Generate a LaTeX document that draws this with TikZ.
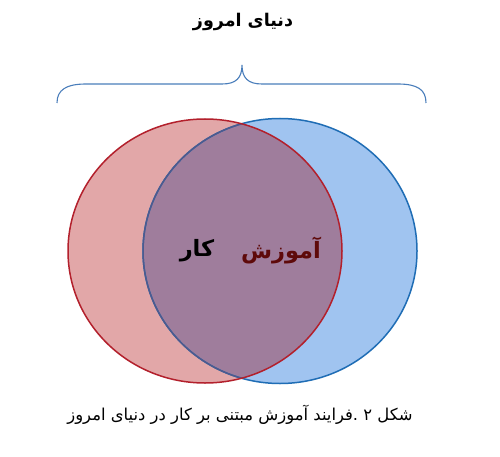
\documentclass[tikz,border=0pt]{standalone}
\usepackage{fontspec}
\newfontfamily\arabicfont[Script=Arabic]{DejaVu Sans}
\TeXXeTstate=1
\definecolor{redfill}{HTML}{E2A7A8}
\definecolor{bluefill}{HTML}{A0C4F0}
\definecolor{mixfill}{HTML}{9F7D9C}
\definecolor{redline}{HTML}{B3202C}
\definecolor{blueline}{HTML}{1F6DB5}
\definecolor{mixline}{HTML}{4D5A8E}
\definecolor{bracecol}{HTML}{4A7EBB}
\definecolor{darkredtext}{HTML}{5E0A0A}
\tikzset{
  ftext/.style={font=\arabicfont\bfseries, inner sep=0pt},
  ctext/.style={font=\arabicfont, inner sep=0pt},
}
\begin{document}
\begin{tikzpicture}[x=1pt,y=-1pt]
\useasboundingbox (0,0) rectangle (500,457);
\fill[white] (0,0) rectangle (500,457);
% circles
\fill[bluefill] (280,251) ellipse [x radius=137, y radius=132.5];
\fill[redfill] (205,251) ellipse [x radius=137, y radius=132];
\begin{scope}
  \clip (205,251) ellipse [x radius=137, y radius=132];
  \fill[mixfill] (280,251) ellipse [x radius=137, y radius=132.5];
\end{scope}
\draw[blueline, line width=1.5pt] (280,251) ellipse [x radius=137, y radius=132.5];
\begin{scope}
  \clip (205,251) ellipse [x radius=137, y radius=132];
  \draw[mixline, line width=1.5pt] (280,251) ellipse [x radius=137, y radius=132.5];
\end{scope}
\draw[redline, line width=1.5pt] (205,251) ellipse [x radius=137, y radius=132];
% brace
\draw[bracecol, line width=1.1pt] (57,103) .. controls (57,90) and (66,84) .. (86,84) -- (222,84) .. controls (236,84) and (242,78) .. (242,65) .. controls (242,78) and (248,84) .. (262,84) -- (398,84) .. controls (418,84) and (426,90) .. (426,103);
% texts
\node[ftext, font=\arabicfont\bfseries\fontsize{17.5}{20}\selectfont] (title) at (243,22) {\beginR دنیای امروز\endR};
\node[ftext, text=darkredtext, font=\arabicfont\bfseries\fontsize{22.5}{26}\selectfont] (w1) at (281,251) {\beginR آموزش\endR};
\node[ftext, text=black, font=\arabicfont\bfseries\fontsize{22.5}{26}\selectfont] (w2) at (197,251) {\beginR کار\endR};
\node[ctext, font=\arabicfont\fontsize{16.4}{19}\selectfont] (cap) at (240,415) {\beginR شکل ۲ .فرایند آموزش مبتنی بر کار در دنیای امروز\endR};
\end{tikzpicture}
\end{document}
